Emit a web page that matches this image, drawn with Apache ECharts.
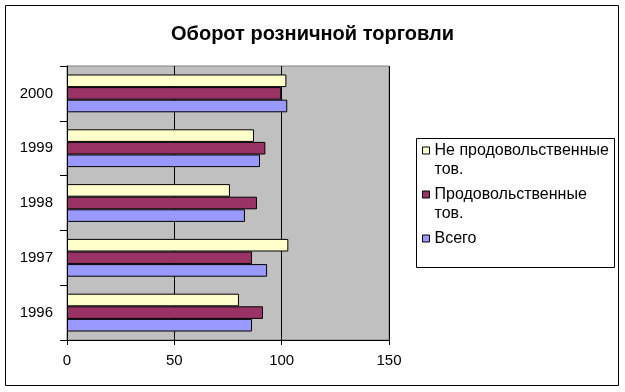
<!DOCTYPE html>
<html>
<head>
<meta charset="utf-8">
<script src="https://cdn.jsdelivr.net/npm/echarts@6/dist/echarts.min.js"></script>
<style>
html,body{margin:0;padding:0;background:#fff;}
#chart{width:625px;height:392px;}
</style>
</head>
<body>
<div id="chart"></div>
<script>
var titleText = 'Оборот розничной торговли';
var categories = ['1996', '1997', '1998', '1999', '2000'];
var seriesNames = ['Не продовольственные тов.', 'Продовольственные тов.', 'Всего'];
var nonFood = [80.1, 103.1, 75.9, 87.1, 102.2];
var food = [91.3, 86.2, 88.5, 92.4, 99.8];
var total = [86.2, 93.2, 82.9, 89.9, 102.6];
var xTicks = [0, 50, 100, 150];
var colors = ['#FFFFCC', '#993366', '#9999FF'];

var FONT = 'Liberation Sans';
var chart = echarts.init(document.getElementById('chart'), null, {renderer: 'canvas'});

function barSeries(name, data, color) {
  return {
    name: name,
    type: 'bar',
    data: data,
    barGap: '0%',
    barCategoryGap: '31%',
    itemStyle: {color: color, borderColor: '#000', borderWidth: 1},
    emphasis: {disabled: true},
    animation: false
  };
}

var option = {
  animation: false,
  backgroundColor: '#ffffff',
  title: {
    text: titleText,
    left: 'center',
    top: 19,
    textStyle: {fontFamily: FONT, fontWeight: 'bold', fontSize: 20, color: '#000'}
  },
  grid: {
    left: 67, top: 66, width: 322, height: 274,
    show: true, backgroundColor: '#C0C0C0', borderColor: '#808080', borderWidth: 1,
    containLabel: false
  },
  xAxis: {
    type: 'value',
    min: xTicks[0], max: xTicks[xTicks.length - 1], interval: xTicks[1] - xTicks[0],
    axisLine: {show: true, lineStyle: {color: '#000', width: 1}},
    axisTick: {show: true, inside: false, length: 5, lineStyle: {color: '#000'}},
    axisLabel: {fontFamily: FONT, fontSize: 15, color: '#000', margin: 13},
    splitLine: {show: true, lineStyle: {color: '#000', width: 1}}
  },
  yAxis: {
    type: 'category',
    data: categories,
    axisLine: {show: true, lineStyle: {color: '#000', width: 1}},
    axisTick: {show: true, inside: false, length: 7, lineStyle: {color: '#000'}},
    axisLabel: {fontFamily: FONT, fontSize: 15, color: '#000', margin: 14},
    splitLine: {show: false}
  },
  legend: {
    orient: 'vertical',
    left: 422,
    top: 122,
    padding: 0,
    itemGap: -13,
    itemWidth: 7,
    itemHeight: 7,
    icon: 'rect',
    selectedMode: false,
    data: seriesNames,
    itemStyle: {borderColor: '#000', borderWidth: 1},
    textStyle: {fontFamily: FONT, fontSize: 16, color: '#000', lineHeight: 19},
    formatter: function (name) {
      var t = name.replace(' тов.', '\nтов.');
      if (t.indexOf('\n') < 0) t = t + '\n';
      return '\n' + t;
    }
  },
  graphic: [
    {type: 'rect', z: 100, silent: true,
     shape: {x: 5.5, y: 5.5, width: 613, height: 380},
     style: {fill: 'none', stroke: '#000', lineWidth: 1}},
    {type: 'rect', z: 100, silent: true,
     shape: {x: 416.5, y: 138.5, width: 198, height: 129},
     style: {fill: 'none', stroke: '#000', lineWidth: 1}}
  ],
  series: [
    barSeries(seriesNames[0], nonFood, colors[0]),
    barSeries(seriesNames[1], food, colors[1]),
    barSeries(seriesNames[2], total, colors[2])
  ]
};
chart.setOption(option);
</script>
</body>
</html>
